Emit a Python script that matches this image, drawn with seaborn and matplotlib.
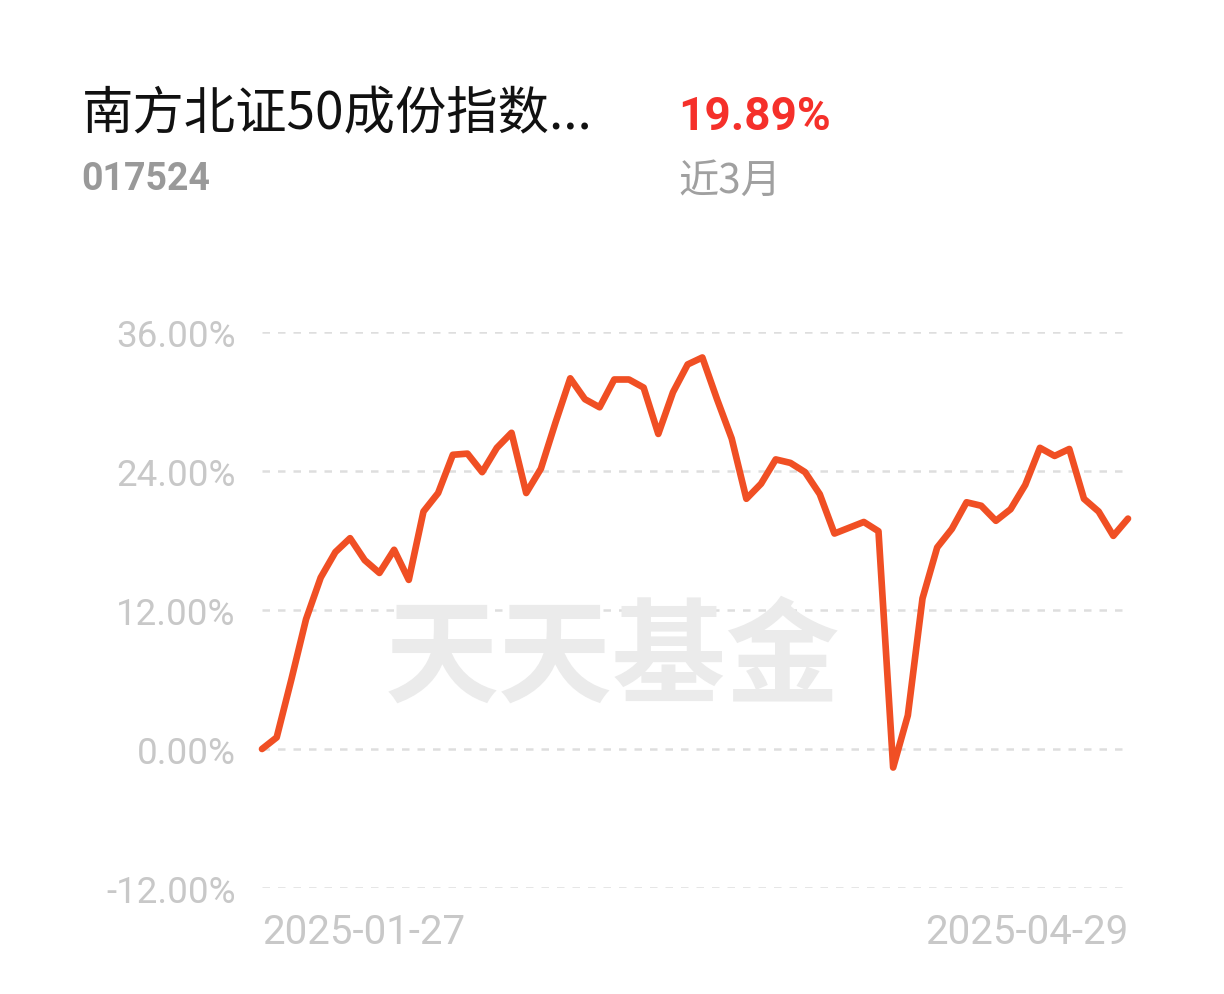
import numpy as np
import pandas as pd
import matplotlib
matplotlib.use("Agg")
import matplotlib.pyplot as plt
import seaborn as sns

# ---- data ----
title = "南方北证50成份指数..."
code = "017524"
period_return = "19.89%"
period_label = "近3月"
watermark = "天天基金"
start_label = "2025-01-27"
end_label = "2025-04-29"
y_ticks = [-12, 0, 12, 24, 36]
returns = [0.0, 1.0, 6.0, 11.2, 14.8, 17.0, 18.2, 16.3, 15.2, 17.2,
           14.6, 20.5, 22.1, 25.4, 25.5, 23.9, 26.0, 27.3, 22.1, 24.2,
           28.2, 32.0, 30.2, 29.5, 31.9, 31.9, 31.2, 27.2, 30.8, 33.2,
           33.8, 30.2, 26.8, 21.6, 22.9, 25.0, 24.7, 23.9, 22.0, 18.6,
           19.1, 19.6, 18.8, -1.6, 2.9, 13.0, 17.4, 19.0, 21.3, 21.0,
           19.7, 20.7, 22.8, 26.0, 25.3, 25.9, 21.6, 20.5, 18.4, 19.89]

sns.set_theme(style="white")
plt.rcParams['font.family'] = ['Noto Sans CJK SC', 'DejaVu Sans']

W, H = 1224, 995
fig = plt.figure(figsize=(W / 100, H / 100), dpi=100)
fig.patch.set_facecolor("white")

# watermark (behind axes)
fig.text(612 / W, 1 - 660 / H, watermark, fontsize=82, fontweight="bold",
         color="#ebebeb", ha="center", va="center", zorder=0)

ax = fig.add_axes([262 / W, 1 - 889 / H, 866 / W, (889 - 333) / H])
ax.set_facecolor("none")

df = pd.DataFrame({"idx": np.arange(len(returns)), "ret": returns})
sns.lineplot(data=df, x="idx", y="ret", ax=ax, color="#f04f24",
             linewidth=4.8, solid_joinstyle="round", solid_capstyle="round",
             zorder=3)
for l in ax.lines:
    l.set_clip_on(False)

ax.set_xlim(0, len(returns) - 1)
ax.set_ylim(-12, 36)
ax.set_yticks(y_ticks)
ax.set_yticklabels([f"{v:.2f}%" for v in y_ticks], family="Roboto",
                   fontsize=26.5, color="#c8c8c8")
ax.set_xticks([0, len(returns) - 1])
xl = ax.set_xticklabels([start_label, end_label], family="Roboto",
                        fontsize=29, color="#c8c8c8")
xl[0].set_horizontalalignment("left")
xl[1].set_horizontalalignment("right")
ax.tick_params(axis="y", length=0, pad=19)
ax.tick_params(axis="x", length=0, pad=17)
ax.set_xlabel("")
ax.set_ylabel("")
for s in ax.spines.values():
    s.set_visible(False)
ax.grid(False)
for v in y_ticks:
    ax.axhline(v, color="#dedede", linewidth=1.8, linestyle=(0, (3.0, 3.2)),
               zorder=1)

# header texts
fig.text(82 / W, 1 - 115 / H, title, fontsize=37, color="#111111",
         ha="left", va="center")
fig.text(81 / W, 1 - 180 / H, code, fontsize=27, fontweight="bold",
         family="Roboto", color="#999999", ha="left", va="center")
fig.text(678 / W, 1 - 117 / H, period_return, fontsize=33, fontweight="bold",
         family="Roboto", color="#f5302a", ha="left", va="center")
fig.text(678 / W, 1 - 181 / H, period_label, fontsize=29,
         family=["Noto Sans CJK SC", "DejaVu Sans"], color="#a0a0a0",
         ha="left", va="center")

fig.savefig("out.png", dpi=100, facecolor="white")
